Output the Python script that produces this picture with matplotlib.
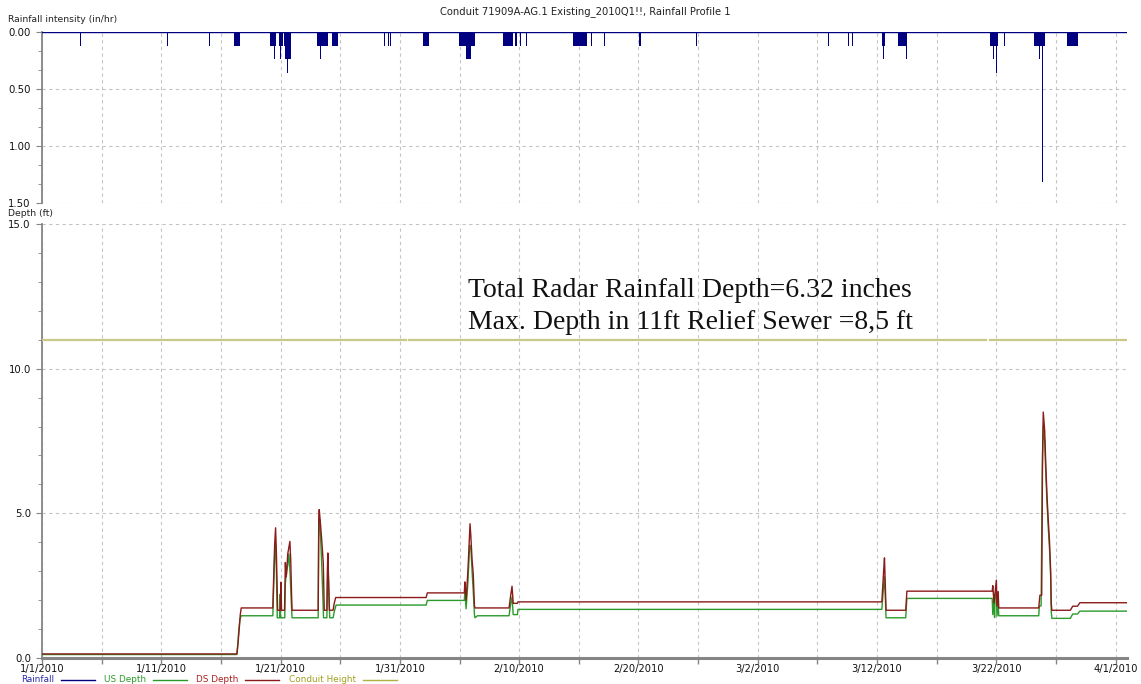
import datetime

import numpy as np
import matplotlib

matplotlib.use("Agg")
import matplotlib.pyplot as plt
from matplotlib.lines import Line2D
from matplotlib.ticker import MultipleLocator, FuncFormatter

START = datetime.date(2010, 1, 1)

# rainfall blocks: start (days after 1/1/2010), duration (days), intensity (in/hr)
rain_day = [3.22, 10.48, 13.96, 16.09, 19.11, 19.45, 19.87, 19.95, 20.31, 20.37,
            20.35, 20.52, 20.51, 23.03, 23.04, 23.11, 23.30, 23.86, 24.33, 25.20,
            28.67, 29.03, 29.17, 31.93, 34.97, 35.55, 38.67, 39.69, 40.04, 40.59,
            44.51, 46.06, 47.14, 50.03, 54.81, 65.89, 67.57, 67.91, 70.43, 70.50,
            71.76, 72.45, 79.43, 79.74, 79.97, 80.67, 83.15, 83.57, 83.84, 85.89]
rain_dur = [0.06, 0.06, 0.16, 0.50, 0.50, 0.06, 0.31, 0.06, 0.59, 0.50,
            0.06, 0.06, 0.05, 0.97, 0.05, 0.06, 0.06, 0.06, 0.45, 0.06,
            0.06, 0.06, 0.08, 0.54, 1.35, 0.39, 0.80, 0.09, 0.13, 0.06,
            1.15, 0.06, 0.06, 0.22, 0.06, 0.06, 0.06, 0.06, 0.25, 0.06,
            0.75, 0.06, 0.69, 0.06, 0.06, 0.06, 0.92, 0.06, 0.06, 0.93]
rain_in_hr = [0.12, 0.12, 0.12, 0.12, 0.12, 0.24, 0.12, 0.24, 0.12, 0.24,
              0.36, 0.36, 0.48, 0.12, 0.36, 0.48, 0.24, 0.24, 0.12, 0.12,
              0.12, 0.12, 0.12, 0.12, 0.12, 0.24, 0.12, 0.12, 0.12, 0.12,
              0.12, 0.12, 0.12, 0.12, 0.12, 0.12, 0.12, 0.12, 0.12, 0.24,
              0.12, 0.24, 0.12, 0.24, 0.36, 0.12, 0.12, 0.24, 1.32, 0.12]

# upstream depth (ft)
us_day = [0, 16.32, 16.42, 16.50, 16.60, 16.70, 19.35, 19.40, 19.50, 19.58,
          19.65, 19.72, 19.93, 19.96, 20.00, 20.35, 20.40, 20.50, 20.60, 20.70,
          20.80, 20.90, 20.96, 23.15, 23.20, 23.27, 23.35, 23.45, 23.55, 23.60,
          23.88, 23.93, 23.98, 24.05, 24.12, 24.40, 24.50, 24.65, 32.20, 32.30,
          35.40, 35.45, 35.55, 35.70, 35.85, 35.95, 36.05, 36.15, 36.25, 36.30,
          36.50, 39.15, 39.30, 39.40, 39.50, 39.85, 39.90, 70.40, 70.55, 70.62,
          70.70, 70.75, 72.40, 72.50, 79.65, 79.70, 79.80, 79.85, 79.90, 80.00,
          80.05, 80.15, 80.20, 83.55, 83.60, 83.75, 83.85, 83.93, 84.05, 84.15,
          84.25, 84.35, 84.45, 84.55, 84.60, 84.65, 86.20, 86.40, 86.80, 87.00,
          91.00]
us_ft = [0.12, 0.12, 0.50, 1.00, 1.35, 1.46, 1.46, 2.20, 3.50, 3.90,
         3.00, 1.39, 1.39, 2.20, 1.39, 1.39, 2.60, 3.00, 3.20, 3.60,
         2.90, 1.90, 1.39, 1.39, 4.50, 4.80, 4.20, 3.20, 2.00, 1.39,
         1.39, 2.60, 3.20, 2.20, 1.39, 1.39, 1.60, 1.83, 1.83, 1.99,
         1.99, 2.30, 1.70, 2.60, 3.90, 3.80, 3.00, 2.30, 1.50, 1.39,
         1.46, 1.46, 1.90, 2.10, 1.50, 1.50, 1.68, 1.68, 2.50, 2.80,
         2.00, 1.39, 1.39, 2.06, 2.06, 1.50, 2.00, 1.40, 2.20, 2.30,
         1.45, 1.90, 1.46, 1.46, 1.80, 1.80, 6.50, 8.00, 7.50, 6.30,
         5.30, 4.50, 3.80, 2.80, 1.60, 1.37, 1.37, 1.52, 1.52, 1.62,
         1.62]

# downstream depth (ft)
ds_day = [0, 16.35, 16.45, 16.55, 16.62, 16.70, 19.35, 19.40, 19.50, 19.58,
          19.65, 19.75, 19.97, 20.03, 20.08, 20.33, 20.40, 20.45, 20.50, 20.60,
          20.78, 20.85, 20.92, 20.96, 23.15, 23.20, 23.24, 23.35, 23.45, 23.58,
          23.66, 23.88, 23.92, 23.96, 24.03, 24.09, 24.40, 24.50, 24.62, 32.20,
          32.30, 35.40, 35.45, 35.55, 35.70, 35.88, 35.95, 36.05, 36.15, 36.25,
          36.30, 39.15, 39.30, 39.40, 39.50, 39.85, 39.90, 70.40, 70.55, 70.62,
          70.70, 70.75, 72.40, 72.50, 79.65, 79.70, 79.80, 79.90, 80.00, 80.05,
          80.15, 80.20, 83.55, 83.65, 83.80, 83.87, 83.93, 84.05, 84.15, 84.25,
          84.35, 84.45, 84.55, 84.60, 84.65, 86.20, 86.40, 86.80, 87.00, 91.00]
ds_ft = [0.14, 0.14, 0.60, 1.10, 1.50, 1.73, 1.73, 2.50, 3.90, 4.50,
         3.60, 1.65, 1.65, 2.62, 1.65, 1.65, 3.30, 2.80, 2.90, 3.60,
         4.03, 3.40, 2.20, 1.65, 1.65, 4.90, 5.13, 4.60, 4.07, 3.27,
         1.65, 1.65, 3.00, 3.63, 2.60, 1.65, 1.65, 1.90, 2.09, 2.09,
         2.25, 2.25, 2.63, 2.00, 3.00, 4.64, 4.20, 3.40, 2.90, 1.80,
         1.73, 1.73, 2.20, 2.48, 1.89, 1.89, 1.94, 1.94, 3.00, 3.46,
         2.40, 1.65, 1.65, 2.31, 2.31, 2.50, 1.90, 2.30, 2.69, 1.80,
         2.30, 1.73, 1.73, 2.17, 2.17, 7.00, 8.50, 7.86, 6.60, 5.56,
         4.76, 4.07, 3.03, 1.89, 1.65, 1.65, 1.79, 1.79, 1.91, 1.91]

# conduit height (ft), with gaps where no record exists
cond_day = [0, 30.49, np.nan, 30.79, 79.13, np.nan, 79.46, 91.0]
cond_ft = [11.0, 11.0, np.nan, 11.0, 11.0, np.nan, 11.0, 11.0]

note_lines = ["Total Radar Rainfall Depth=6.32 inches",
              "Max. Depth in 11ft Relief Sewer =8,5 ft"]

NAVY = "#000080"
GREEN = "#2a9a2a"
DARKRED = "#8b1a1a"
OLIVE = "#c8c888"
GRID = "#c4c4c4"
SPINE = "#858585"

W, H = 1141, 684


def px_box(left, top, right, bottom):
    return [left / W, 1 - bottom / H, (right - left) / W, (bottom - top) / H]


def date_label(d, pos):
    day = START + datetime.timedelta(days=int(round(d)))
    return "{}/{}/{}".format(day.month, day.day, day.year)


def style_axis(ax):
    for side in ["top", "right", "bottom"]:
        ax.spines[side].set_visible(False)
    ax.spines["left"].set_color(SPINE)
    ax.spines["left"].set_linewidth(1.3)
    ax.tick_params(axis="y", which="both", direction="out", color=SPINE,
                   labelsize=7.3, labelcolor="#111111", pad=4)
    ax.tick_params(axis="y", which="major", length=4)
    ax.tick_params(axis="y", which="minor", length=3)
    ax.xaxis.set_major_locator(MultipleLocator(10))
    ax.xaxis.set_minor_locator(MultipleLocator(5))
    ax.grid(True, which="major", axis="y", color=GRID, linestyle=(0, (3, 3)), lw=0.8)
    ax.grid(True, which="both", axis="x", color=GRID, linestyle=(0, (3, 3)), lw=0.8)
    ax.set_xlim(0, 90.95)


fig = plt.figure(figsize=(W / 100, H / 100), dpi=100)

# rainfall panel
ax1 = fig.add_axes(px_box(42, 32, 1127, 203))
style_axis(ax1)
ax1.bar(rain_day, rain_in_hr, width=rain_dur, align="edge", color=NAVY,
        linewidth=0, zorder=3)
ax1.axhline(0, color=NAVY, lw=1.0, zorder=4)
ax1.set_ylim(1.5, 0)
ax1.yaxis.set_major_locator(MultipleLocator(0.5))
ax1.yaxis.set_minor_locator(MultipleLocator(0.5 / 3))
ax1.yaxis.set_major_formatter(FuncFormatter(lambda v, p: "{:.2f}".format(v)))
ax1.tick_params(axis="x", which="both", length=0, labelbottom=False)

# depth panel
ax2 = fig.add_axes(px_box(42, 224, 1127, 658))
style_axis(ax2)
ax2.spines["bottom"].set_visible(True)
ax2.spines["bottom"].set_color(SPINE)
ax2.spines["bottom"].set_linewidth(2.2)
ax2.plot(cond_day, cond_ft, color=OLIVE, lw=1.6, zorder=3)
ax2.plot(us_day, us_ft, color=GREEN, lw=1.0, zorder=4)
ax2.plot(ds_day, ds_ft, color=DARKRED, lw=1.0, zorder=5)
ax2.set_ylim(0, 15)
ax2.yaxis.set_major_locator(MultipleLocator(5))
ax2.yaxis.set_minor_locator(MultipleLocator(1))
ax2.yaxis.set_major_formatter(FuncFormatter(lambda v, p: "{:.1f}".format(v)))
ax2.xaxis.set_major_formatter(FuncFormatter(date_label))
ax2.tick_params(axis="x", which="both", direction="out", color=SPINE, length=4,
                width=1.0, labelsize=7.1, labelcolor="#111111", pad=0.5)

# titles and axis captions
fig.text(585 / W, 1 - 12 / H, "Conduit 71909A-AG.1 Existing_2010Q1!!, Rainfall Profile 1",
         ha="center", va="center", fontsize=7.2, color="#222222")
fig.text(8 / W, 1 - 20 / H, "Rainfall intensity (in/hr)", ha="left", va="center",
         fontsize=6.7, color="#222222")
fig.text(8 / W, 1 - 214 / H, "Depth (ft)", ha="left", va="center",
         fontsize=6.7, color="#222222")

for i, line in enumerate(note_lines):
    fig.text(468 / W, 1 - (290 + 32 * i) / H, line, ha="left", va="center",
             fontsize=20, family="Liberation Serif", color="#111111")

# legend strip along the bottom edge
legend_items = [("Rainfall", "#2b2ba8", NAVY, 21),
                ("US Depth", GREEN, GREEN, 104),
                ("DS Depth", "#a82020", DARKRED, 196),
                ("Conduit Height", "#a0a020", "#b0b040", 289)]
for label, tcolor, lcolor, x0 in legend_items:
    t = fig.text(x0 / W, 1 - 679.8 / H, label, ha="left", va="center",
                 fontsize=6.4, color=tcolor)
    fig.canvas.draw()
    bb = t.get_window_extent()
    lx = bb.x1 + 7
    fig.add_artist(Line2D([lx / W, (lx + 34) / W], [1 - 680 / H, 1 - 680 / H],
                          color=lcolor, lw=1.0, transform=fig.transFigure))

fig.savefig("out.png", dpi=100)
